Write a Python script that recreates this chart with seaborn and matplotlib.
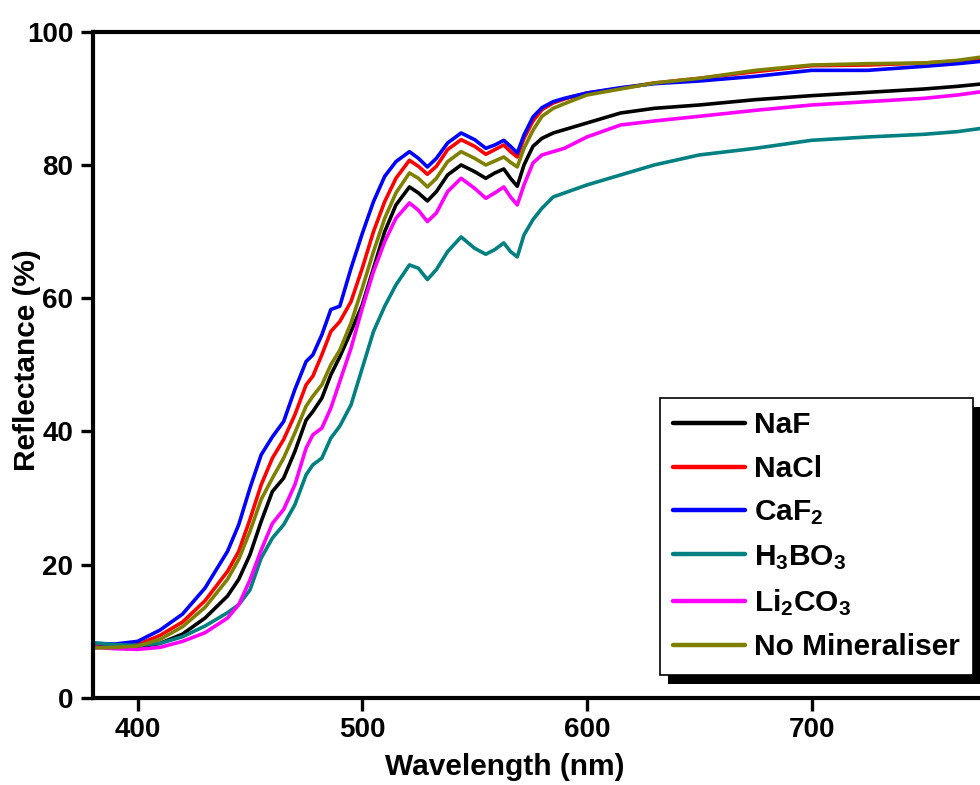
import numpy as np
import pandas as pd
import matplotlib
matplotlib.use("Agg")
import matplotlib.pyplot as plt
from matplotlib.lines import Line2D
from matplotlib.patches import Rectangle
import seaborn as sns

# Diffuse reflectance spectra of pigments fired with different mineralisers
wavelength = [380, 390, 400, 410, 420, 430, 440, 445, 450, 455, 460, 465, 470, 475,
              478, 482, 486, 490, 495, 500, 505, 510, 515, 521, 525, 529, 533, 538,
              544, 550, 555, 559, 563, 566, 569, 572, 576, 580, 585, 590, 600, 615,
              630, 650, 675, 700, 725, 750, 765, 780]

naf = [7.7, 7.6, 7.6, 8.2, 9.6, 12.0, 15.3, 17.8, 21.5, 26.5, 31.0, 33.0, 37.0, 41.7,
       43.0, 45.0, 48.5, 51.2, 55.0, 59.0, 64.5, 70.0, 74.0, 76.7, 75.8, 74.6, 76.0, 78.5,
       80.0, 79.0, 78.0, 78.8, 79.4, 78.0, 76.8, 80.0, 82.8, 84.0, 84.8, 85.3, 86.3, 87.8,
       88.5, 89.0, 89.8, 90.4, 90.9, 91.4, 91.8, 92.3]

nacl = [7.8, 7.8, 8.0, 9.4, 11.4, 14.6, 19.0, 22.0, 26.8, 32.0, 36.0, 38.8, 42.5, 47.0,
        48.3, 51.5, 55.0, 56.5, 59.5, 64.5, 70.0, 74.5, 78.0, 80.7, 79.8, 78.6, 79.8, 82.3,
        83.8, 82.8, 81.6, 82.3, 83.0, 82.0, 81.2, 84.0, 86.6, 88.3, 89.3, 89.9, 90.8, 91.5,
        92.3, 93.0, 94.0, 94.9, 95.0, 95.3, 95.6, 96.0]

caf2 = [8.2, 8.1, 8.5, 10.2, 12.6, 16.5, 22.0, 26.0, 31.5, 36.5, 39.2, 41.5, 46.3, 50.5,
        51.5, 54.5, 58.3, 58.8, 64.5, 69.7, 74.5, 78.3, 80.5, 82.0, 81.0, 79.7, 81.0, 83.3,
        84.8, 83.8, 82.5, 83.0, 83.7, 82.8, 81.8, 84.5, 87.2, 88.6, 89.5, 90.0, 90.8, 91.6,
        92.2, 92.6, 93.3, 94.2, 94.2, 94.8, 95.2, 95.7]

h3bo3 = [8.3, 8.0, 7.9, 8.2, 9.2, 10.8, 12.8, 14.0, 16.2, 21.0, 24.0, 26.0, 29.0, 33.5,
         35.0, 36.0, 39.0, 40.8, 44.0, 49.5, 55.0, 58.8, 62.0, 65.0, 64.5, 62.8, 64.3, 67.0,
         69.2, 67.5, 66.6, 67.3, 68.3, 67.0, 66.2, 69.5, 71.8, 73.5, 75.2, 75.8, 77.0, 78.5,
         80.0, 81.5, 82.5, 83.7, 84.2, 84.6, 85.0, 85.7]

li2co3 = [7.6, 7.4, 7.3, 7.6, 8.5, 9.8, 12.0, 14.0, 17.7, 22.2, 26.2, 28.3, 32.0, 37.5,
          39.5, 40.5, 43.5, 47.5, 52.5, 58.5, 64.0, 68.5, 72.0, 74.3, 73.2, 71.5, 72.8, 76.0,
          78.0, 76.5, 75.0, 75.8, 76.7, 75.2, 74.0, 77.0, 80.3, 81.5, 82.0, 82.5, 84.2, 86.0,
          86.6, 87.3, 88.2, 89.0, 89.5, 90.0, 90.5, 91.2]

no_min = [7.5, 7.6, 7.8, 8.8, 10.7, 13.6, 17.8, 20.8, 25.0, 29.8, 33.0, 36.0, 39.8, 43.8,
          45.3, 47.0, 50.0, 52.2, 56.3, 61.5, 67.0, 72.0, 75.8, 78.8, 78.0, 76.7, 78.0, 80.5,
          82.0, 81.0, 80.0, 80.6, 81.2, 80.4, 79.7, 82.5, 85.2, 87.3, 88.5, 89.2, 90.5, 91.4,
          92.3, 93.0, 94.2, 95.0, 95.2, 95.3, 95.7, 96.4]

labels = ["NaF", "NaCl", "CaF$_2$", "H$_3$BO$_3$", "Li$_2$CO$_3$", "No Mineraliser"]
colors = ["#000000", "#ff0000", "#0000ff", "#008080", "#ff00ff", "#808000"]
series = [naf, nacl, caf2, h3bo3, li2co3, no_min]

x_ticks = [400, 500, 600, 700]
y_ticks = [0, 20, 40, 60, 80, 100]

df = pd.concat(
    [pd.DataFrame({"Wavelength": wavelength, "Reflectance": vals, "Sample": lab})
     for lab, vals in zip(labels, series)],
    ignore_index=True,
)

sns.set_theme(style="ticks")
plt.rcParams["font.family"] = ["Liberation Sans", "DejaVu Sans"]
plt.rcParams["font.weight"] = "bold"
plt.rcParams["text.color"] = "black"
plt.rcParams["axes.labelcolor"] = "black"
plt.rcParams["xtick.color"] = "black"
plt.rcParams["ytick.color"] = "black"
plt.rcParams["mathtext.fontset"] = "custom"
plt.rcParams["mathtext.rm"] = "Liberation Sans:bold"
plt.rcParams["mathtext.it"] = "Liberation Sans:bold"
plt.rcParams["mathtext.bf"] = "Liberation Sans:bold"
plt.rcParams["mathtext.default"] = "regular"

W, H = 980, 785
fig = plt.figure(figsize=(W / 100, H / 100), dpi=100)
ax = fig.add_axes([92.7 / W, (H - 698) / H, (W - 92.7) / W, (698 - 31.7) / H])

sns.lineplot(data=df, x="Wavelength", y="Reflectance", hue="Sample",
             hue_order=labels, palette=colors, linewidth=2.6, legend=False,
             ax=ax, sort=True)

ax.set_xlim(380, 775)
ax.set_ylim(0, 100)
ax.set_xticks(x_ticks)
ax.set_yticks(y_ticks)
ax.set_xlabel("Wavelength (nm)", fontsize=21.5, fontweight="bold", color="black")
ax.set_ylabel("Reflectance (%)", fontsize=21.5, fontweight="bold", color="black")
ax.xaxis.set_label_coords(0.4647, -0.083)
ax.yaxis.set_label_coords(-0.0583, 0.507)

for side in ["left", "bottom", "top"]:
    ax.spines[side].set_linewidth(3.0)
    ax.spines[side].set_color("black")
ax.spines["right"].set_visible(False)
ax.tick_params(axis="both", direction="out", length=9, width=2.4,
               labelsize=20, color="black", labelcolor="black", pad=5)
for lab in ax.get_xticklabels() + ax.get_yticklabels():
    lab.set_fontweight("bold")

handles = [Line2D([], [], color=c, lw=3.2) for c in colors]
leg = ax.legend(handles, labels, loc="upper left",
                bbox_to_anchor=(660 / W, 1 - 398 / H), bbox_transform=fig.transFigure,
                borderaxespad=0, frameon=True, fancybox=False,
                prop={"size": 21.5, "weight": "bold"},
                handlelength=2.4, handletextpad=0.3, labelspacing=0.52,
                borderpad=0.45)
leg.get_frame().set_edgecolor("black")
leg.get_frame().set_linewidth(1.2)
leg.get_frame().set_alpha(1)
leg.set_zorder(10)
for t in leg.get_texts():
    t.set_color("black")

# Solid drop shadow behind the legend box
fig.canvas.draw()
bb = leg.get_window_extent()
shadow = Rectangle(((bb.x0 + 8) / W, (bb.y0 - 9) / H), bb.width / W, bb.height / H,
                   transform=fig.transFigure, facecolor="black", edgecolor="none",
                   clip_on=False, zorder=9)
ax.add_patch(shadow)

fig.savefig("out.png", dpi=100)
